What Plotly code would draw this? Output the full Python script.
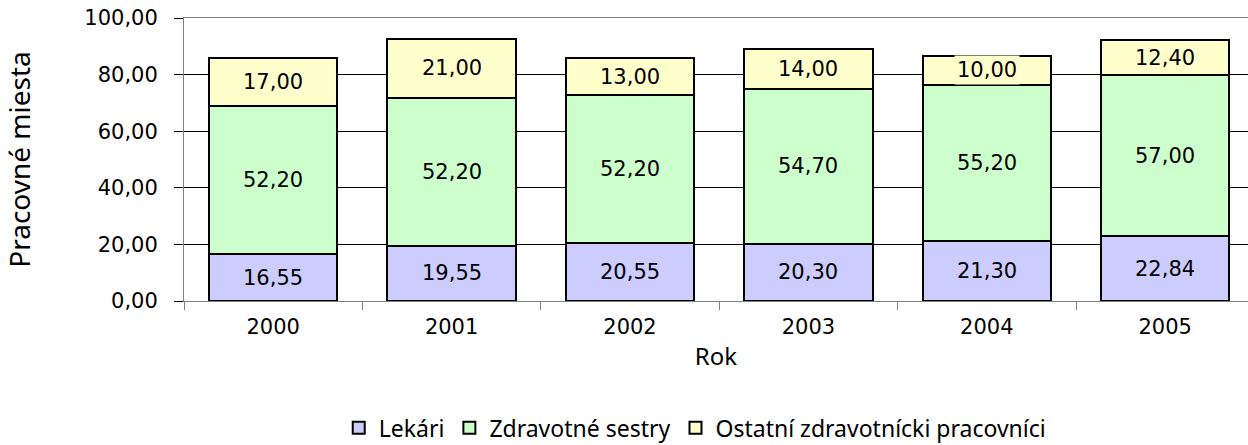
import plotly.graph_objects as go

years = ["2000", "2001", "2002", "2003", "2004", "2005"]
lekari = [16.55, 19.55, 20.55, 20.30, 21.30, 22.84]
sestry = [52.20, 52.20, 52.20, 54.70, 55.20, 57.00]
ostatni = [17.00, 21.00, 13.00, 14.00, 10.00, 12.40]

series_names = ["Lekári", "Zdravotné sestry", "Ostatní zdravotnícki pracovníci"]
series_values = [lekari, sestry, ostatni]
colors = ["#CCCCFF", "#CCFFCC", "#FFFFCC"]

num_font = "DejaVu Sans"
txt_font = "Noto Sans"

fig = go.Figure()
for name, vals, col in zip(series_names, series_values, colors):
    fig.add_trace(go.Bar(
        x=years, y=vals, name=name,
        marker=dict(color=col, line=dict(color="black", width=2)),
        hoverinfo="skip",
    ))

def fmt(v):
    return f"{v:.2f}".replace(".", ",")

annotations = []
base = [0.0] * len(years)
for vals, col in zip(series_values, colors):
    for i, v in enumerate(vals):
        annotations.append(dict(
            x=i, y=base[i] + v / 2, xref="x", yref="y",
            text=fmt(v), showarrow=False,
            font=dict(family=num_font, size=21, color="black"),
            bgcolor=col, borderpad=2,
        ))
        base[i] += v

fig.update_layout(
    width=1248, height=445,
    barmode="stack", bargap=0.28,
    paper_bgcolor="white", plot_bgcolor="white",
    margin=dict(l=184, r=0, t=18, b=144, autoexpand=False),
    separators=",.",
    annotations=annotations,
    showlegend=True,
    legend=dict(
        orientation="h", x=0.48, xanchor="center", y=-0.448, yanchor="middle",
        font=dict(family=txt_font, size=23, color="black"),
        traceorder="normal", itemwidth=30,
    ),
    xaxis=dict(
        type="category", automargin=False,
        range=[-0.5, 5.464],
        tickson="boundaries", ticks="outside", ticklen=8, tickcolor="#808080",
        ticklabelstandoff=7,
        showline=True, mirror=True, linecolor="#808080", linewidth=1,
        showgrid=False,
        tickfont=dict(family=num_font, size=21, color="black"),
        title=dict(text="Rok", font=dict(family=txt_font, size=24, color="black"), standoff=9),
    ),
    yaxis=dict(
        automargin=False,
        range=[0, 100], tickvals=[0, 20, 40, 60, 80, 100], tickformat=".2f",
        ticks="outside", ticklen=9, tickcolor="black", ticklabelstandoff=12,
        showline=True, linecolor="#808080", linewidth=1,
        showgrid=True, gridcolor="black", gridwidth=1,
        zeroline=False,
        tickfont=dict(family=num_font, size=21, color="black"),
        title=dict(text="Pracovné miesta", font=dict(family=txt_font, size=28, color="black"), standoff=50),
    ),
)

fig.write_html("out.html", config={"displayModeBar": False},
               post_script="document.body.style.margin='0';")
